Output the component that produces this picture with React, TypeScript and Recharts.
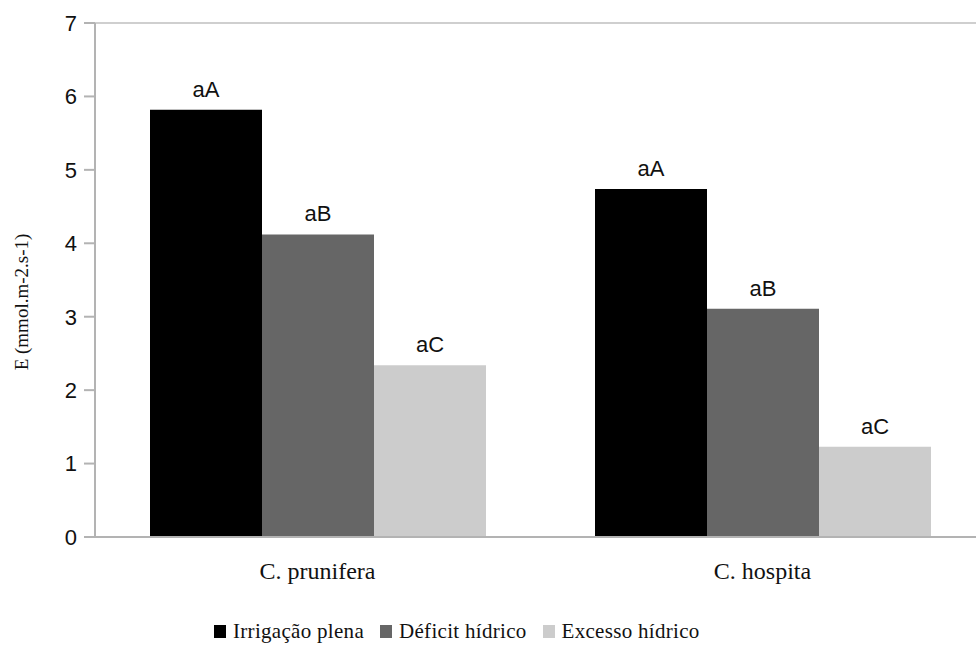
import React from "react";
import {
  BarChart, Bar, XAxis, YAxis, Legend, LabelList, ReferenceLine,
} from "recharts";

// E (mmol.m-2.s-1) por espécie e regime hídrico
const categories = ["C. prunifera", "C. hospita"];
const irrigacaoPlena = [5.82, 4.74];
const deficitHidrico = [4.12, 3.11];
const excessoHidrico = [2.34, 1.23];

// letras de comparação de médias sobre cada barra
const letrasIrrigacao = ["aA", "aA"];
const letrasDeficit = ["aB", "aB"];
const letrasExcesso = ["aC", "aC"];

const seriesNames = ["Irrigação plena", "Déficit hídrico", "Excesso hídrico"];
const yTicks = [0, 1, 2, 3, 4, 5, 6, 7];
// limites entre categorias (traços no eixo x)
const edgeTicks = [0, 1, 2];

const data = categories.map((especie, i) => ({
  especie,
  irrigacao: irrigacaoPlena[i],
  deficit: deficitHidrico[i],
  excesso: excessoHidrico[i],
  lIrr: letrasIrrigacao[i],
  lDef: letrasDeficit[i],
  lExc: letrasExcesso[i],
}));

const AXIS = "#b3b3b3";
const SANS = "'Liberation Sans', Arial, sans-serif";
const SERIF = "'Liberation Serif', 'Times New Roman', serif";

function YLabel(props: any) {
  const { x, y, height } = props.viewBox;
  const cx = x + 24;
  const cy = y + height / 2 + 22;
  return (
    <text
      x={cx}
      y={cy}
      transform={`rotate(-90, ${cx}, ${cy})`}
      textAnchor="middle"
      dominantBaseline="middle"
      fontFamily={SERIF}
      fontSize={19}
      fill="#111"
    >
      E (mmol.m-2.s-1)
    </text>
  );
}

function LegendContent(props: any) {
  // mantém a ordem das séries (o payload chega ordenado por nome)
  const items = [...(props.payload || [])].sort(
    (a: any, b: any) => seriesNames.indexOf(a.value) - seriesNames.indexOf(b.value)
  );
  return (
    <div style={{ display: "flex", alignItems: "center", color: "#111" }}>
      {items.map((p: any) => (
        <div key={p.value} style={{ display: "flex", alignItems: "center", marginRight: 16 }}>
          <span style={{ display: "inline-block", width: 12, height: 13, background: p.color, marginRight: 7 }} />
          <span style={{ fontFamily: SERIF, fontSize: 21, lineHeight: "24px", letterSpacing: 0.3 }}>{p.value}</span>
        </div>
      ))}
    </div>
  );
}

export default function App() {
  return (
    <div style={{ position: "fixed", left: 0, top: 0, width: 976, height: 646, overflow: "hidden", background: "#fff" }}>
      <BarChart
        width={990}
        height={646}
        data={data}
        margin={{ top: 23, right: 5, left: 0, bottom: 0 }}
        barCategoryGap={55}
        barGap={0}
      >
        <XAxis
          xAxisId="edge"
          type="number"
          domain={[0, 2]}
          ticks={edgeTicks}
          tick={false}
          axisLine={false}
          tickLine={{ stroke: AXIS, strokeWidth: 2 }}
          tickSize={10}
          height={0}
        />
        <XAxis
          xAxisId="cat"
          dataKey="especie"
          axisLine={{ stroke: AXIS, strokeWidth: 2 }}
          tickLine={false}
          tickSize={0}
          tickMargin={25}
          height={109}
          tick={{ fontFamily: SERIF, fontSize: 24, fill: "#111" }}
        />
        <YAxis
          width={95}
          domain={[0, 7]}
          ticks={yTicks}
          interval={0}
          axisLine={{ stroke: AXIS, strokeWidth: 2 }}
          tickLine={{ stroke: AXIS, strokeWidth: 2 }}
          tickSize={11}
          tickMargin={7}
          tick={{ fontFamily: SANS, fontSize: 22, fill: "#111" }}
          label={<YLabel />}
        />
        <ReferenceLine xAxisId="cat" y={7} stroke="#cfcfcf" strokeWidth={2} />
        <Legend
          verticalAlign="middle"
          align="center"
          content={(p: any) => <LegendContent {...p} />}
          wrapperStyle={{ top: 619, left: 214, width: "auto" }}
        />
        <Bar xAxisId="cat" dataKey="irrigacao" name={seriesNames[0]} fill="#000000" isAnimationActive={false}>
          <LabelList dataKey="lIrr" position="top" offset={13} fontFamily={SANS} fontSize={22} fill="#111" />
        </Bar>
        <Bar xAxisId="cat" dataKey="deficit" name={seriesNames[1]} fill="#666666" isAnimationActive={false}>
          <LabelList dataKey="lDef" position="top" offset={13} fontFamily={SANS} fontSize={22} fill="#111" />
        </Bar>
        <Bar xAxisId="cat" dataKey="excesso" name={seriesNames[2]} fill="#cccccc" isAnimationActive={false}>
          <LabelList dataKey="lExc" position="top" offset={13} fontFamily={SANS} fontSize={22} fill="#111" />
        </Bar>
      </BarChart>
    </div>
  );
}
